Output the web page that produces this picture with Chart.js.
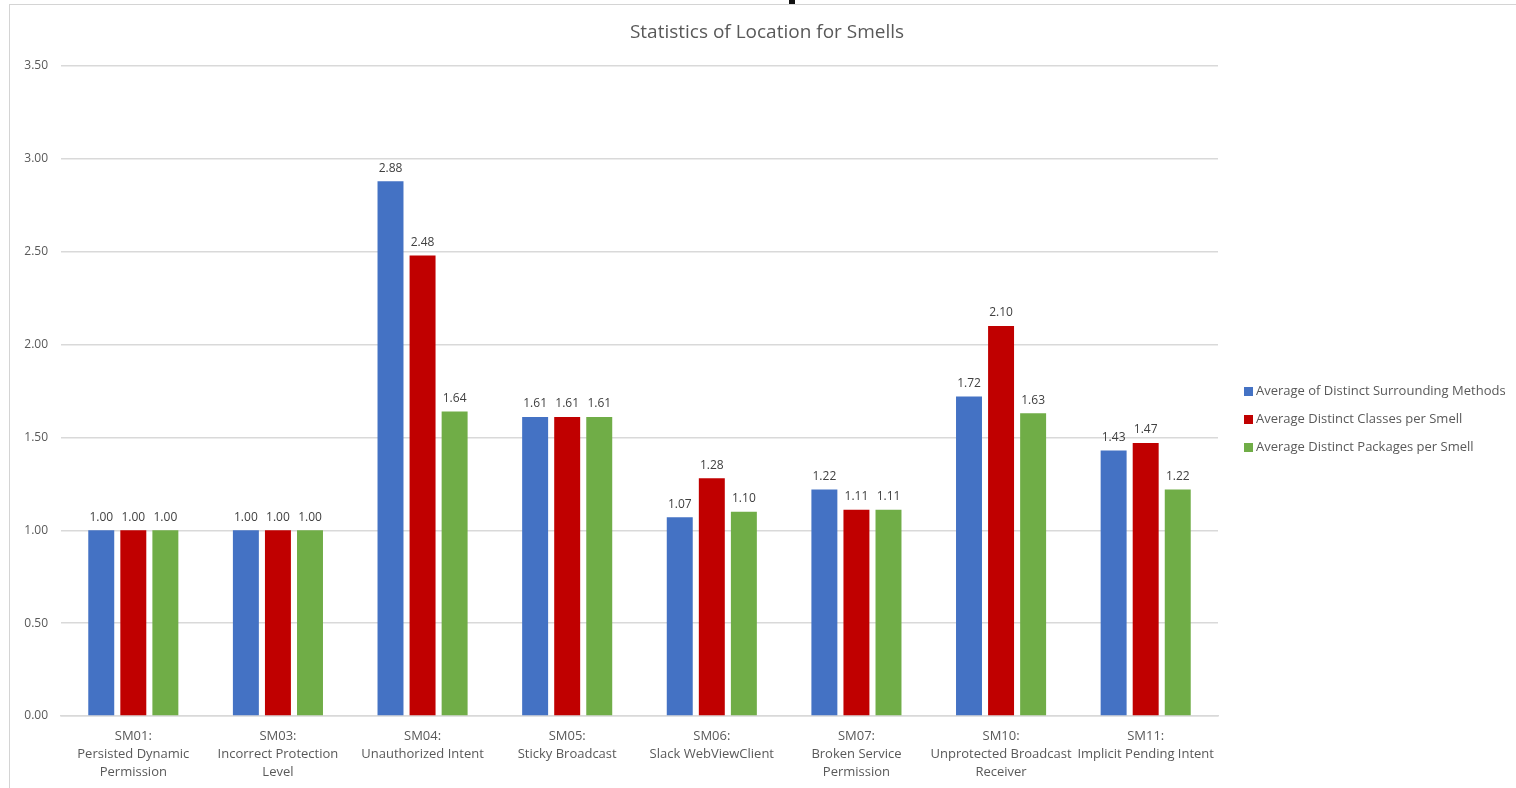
<!DOCTYPE html>
<html>
<head>
<meta charset="utf-8">
<script src="https://cdn.jsdelivr.net/npm/chart.js@4"></script>
<style>
  html, body { margin: 0; padding: 0; background: #fff; }
  #wrap { position: relative; width: 1516px; height: 788px; overflow: hidden; }
  #frame { position: absolute; left: 9px; top: 4px; right: -2px; bottom: -2px;
           border-left: 1.5px solid #d4d4d4; border-top: 1.5px solid #d4d4d4; }
  #mark { position: absolute; left: 789px; top: 0; width: 6px; height: 4px; background: #111; }
  canvas { position: absolute; left: 0; top: 0; }
</style>
</head>
<body>
<div id="wrap">
  <div id="frame"></div>
  <div id="mark"></div>
  <canvas id="chart" width="1516" height="788"></canvas>
</div>
<script>
const chartTitle = "Statistics of Location for Smells";
const categories = [
  ["SM01:", "Persisted Dynamic", "Permission"],
  ["SM03:", "Incorrect Protection", "Level"],
  ["SM04:", "Unauthorized Intent"],
  ["SM05:", "Sticky Broadcast"],
  ["SM06:", "Slack WebViewClient"],
  ["SM07:", "Broken Service", "Permission"],
  ["SM10:", "Unprotected Broadcast", "Receiver"],
  ["SM11:", "Implicit Pending Intent"]
];
const surroundingMethods = [1.00, 1.00, 2.88, 1.61, 1.07, 1.22, 1.72, 1.43];
const classesPerSmell    = [1.00, 1.00, 2.48, 1.61, 1.28, 1.11, 2.10, 1.47];
const packagesPerSmell   = [1.00, 1.00, 1.64, 1.61, 1.10, 1.11, 1.63, 1.22];
const seriesNames = [
  "Average of Distinct Surrounding Methods",
  "Average Distinct Classes per Smell",
  "Average Distinct Packages per Smell"
];
const seriesColors = ["#4472C4", "#C00000", "#70AD47"];
const yTicks = [0, 0.5, 1, 1.5, 2, 2.5, 3, 3.5];

const FONT = "'Open Sans', 'Noto Sans', sans-serif";
const TEXT = "#595959";

// title centred over the whole frame, not only the plot
const frameTitle = {
  id: "frameTitle",
  afterDraw(chart) {
    const ctx = chart.ctx;
    ctx.save();
    ctx.font = "19px " + FONT;
    ctx.fillStyle = TEXT;
    ctx.textAlign = "center";
    ctx.textBaseline = "middle";
    ctx.fillText(chartTitle, 767, 33);
    ctx.restore();
  }
};

// value above every bar
const valueLabels = {
  id: "valueLabels",
  afterDatasetsDraw(chart) {
    const ctx = chart.ctx;
    ctx.save();
    ctx.font = "12px " + FONT;
    ctx.fillStyle = "#404040";
    ctx.textAlign = "center";
    ctx.textBaseline = "bottom";
    chart.data.datasets.forEach((ds, i) => {
      chart.getDatasetMeta(i).data.forEach((bar, j) => {
        ctx.fillText(ds.data[j].toFixed(2), bar.x, bar.y - 7);
      });
    });
    ctx.restore();
  }
};

// legend column to the right of the plot
const sideLegend = {
  id: "sideLegend",
  afterDraw(chart) {
    const ctx = chart.ctx;
    const x = chart.chartArea.right + 26;
    const y0 = 391;
    ctx.save();
    ctx.font = "13px " + FONT;
    ctx.textBaseline = "middle";
    ctx.textAlign = "left";
    chart.data.datasets.forEach((ds, i) => {
      const y = y0 + i * 28;
      ctx.fillStyle = ds.backgroundColor;
      ctx.fillRect(x, y - 4, 9, 9);
      ctx.fillStyle = TEXT;
      ctx.fillText(ds.label, x + 12, y);
    });
    ctx.restore();
  }
};

const datasets = [surroundingMethods, classesPerSmell, packagesPerSmell].map((data, i) => ({
  label: seriesNames[i],
  data: data,
  backgroundColor: seriesColors[i],
  categoryPercentage: 0.665,
  barPercentage: 0.81
}));

new Chart(document.getElementById("chart"), {
  type: "bar",
  data: { labels: categories, datasets: datasets },
  plugins: [frameTitle, valueLabels, sideLegend],
  options: {
    responsive: false,
    animation: false,
    layout: { padding: { left: 10, right: 298, top: 66, bottom: 8 } },
    plugins: {
      legend: { display: false },
      tooltip: { enabled: false },
      title: { display: false }
    },
    scales: {
      x: {
        grid: { display: false, drawTicks: false },
        border: { display: true, color: "#d9d9d9", width: 1.5 },
        ticks: {
          color: TEXT,
          font: { family: FONT, size: 13, lineHeight: 1.385 },
          padding: 11,
          maxRotation: 0,
          autoSkip: false
        },
        afterFit(scale) { scale.height = 64; }
      },
      y: {
        min: 0,
        max: 3.5,
        afterBuildTicks(scale) { scale.ticks = yTicks.map(v => ({ value: v })); },
        afterFit(scale) { scale.width = 51; },
        grid: { color: "#d9d9d9", lineWidth: 1.5, drawTicks: false },
        border: { display: false },
        ticks: {
          color: TEXT,
          font: { family: FONT, size: 12 },
          padding: 13,
          callback: v => Number(v).toFixed(2)
        }
      }
    }
  }
});
</script>
</body>
</html>
